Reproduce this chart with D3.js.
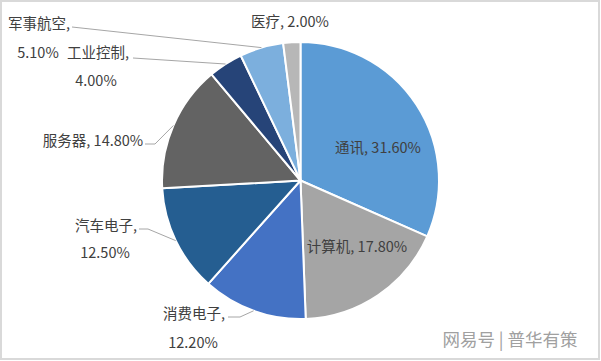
<!DOCTYPE html>
<html>
<head>
<meta charset="utf-8">
<script src="https://cdn.jsdelivr.net/npm/d3@7"></script>
<style>
  body { margin: 0; background: #fff; }
  text { font-family: "Noto Sans CJK SC", "Noto Sans", sans-serif; fill: #404040; }
</style>
</head>
<body>
<div id="chart"></div>
<script>
// data, clockwise from 12 o'clock
var names = ["通讯", "计算机", "消费电子", "汽车电子", "服务器", "工业控制", "军事航空", "医疗"];
var shares = [31.6, 17.8, 12.2, 12.5, 14.8, 4.0, 5.1, 2.0];

var colors = ["#5b9bd5", "#a5a5a5", "#4472c4", "#255e91", "#636363", "#264478", "#7cafdd", "#b7b7b7"];

// label placement (Excel-style hand placed labels), text lines + leader elbow
var labelPos = {
  "通讯":   { lines: [[378, 148, "通讯, 31.60%"]] },
  "计算机": { lines: [[357, 247, "计算机, 17.80%"]] },
  "消费电子": { lines: [[194, 314, "消费电子,"], [193, 343, "12.20%"]], lead: [228, 317, 240] },
  "汽车电子": { lines: [[106, 226, "汽车电子,"], [105, 253, "12.50%"]], lead: [139, 229, 148] },
  "服务器": { lines: [[93, 141, "服务器, 14.80%"]], lead: [145, 144, 155] },
  "工业控制": { lines: [[98, 53, "工业控制,"], [96, 81, "4.00%"]], lead: [133, 58] },
  "军事航空": { lines: [[39, 24, "军事航空,"], [38, 53, "5.10%"]], lead: [72, 27] },
  "医疗":   { lines: [[290, 22, "医疗, 2.00%"]] }
};

var width = 601, height = 361;
var cx = 300.5, cy = 180.5, r = 138.5;

var svg = d3.select("#chart").append("svg")
    .attr("width", width)
    .attr("height", height);

svg.append("rect")
    .attr("x", 1).attr("y", 1)
    .attr("width", width - 3).attr("height", height - 3)
    .style("fill", "#fff")
    .style("stroke", "#d9d9d9")
    .style("stroke-width", 2);

var pie = d3.pie().sort(null).value(function(d) { return d; });
var arcs = pie(shares);
var arc = d3.arc().innerRadius(0).outerRadius(r);

var g = svg.append("g").attr("transform", "translate(" + cx + "," + cy + ")");

g.selectAll("path")
    .data(arcs)
    .enter().append("path")
    .attr("d", arc)
    .style("fill", function(d, i) { return colors[i]; })
    .style("stroke", "#fff")
    .style("stroke-width", 2)
    .style("stroke-linejoin", "round");

// leader lines, from slice edge midpoint to label
arcs.forEach(function(d, i) {
  var lp = labelPos[names[i]];
  if (!lp.lead) return;
  var a = (d.startAngle + d.endAngle) / 2;
  var ex = cx + r * Math.sin(a), ey = cy - r * Math.cos(a);
  var pts = [[lp.lead[0], lp.lead[1]]];
  if (lp.lead.length > 2) pts.push([lp.lead[2], lp.lead[1]]);
  pts.push([ex, ey]);
  svg.append("path")
      .attr("d", d3.line()(pts))
      .style("fill", "none")
      .style("stroke", "#a6a6a6")
      .style("stroke-width", 1);
});

names.forEach(function(n) {
  labelPos[n].lines.forEach(function(l) {
    svg.append("text")
        .attr("x", l[0])
        .attr("y", l[1])
        .attr("dy", "0.35em")
        .attr("text-anchor", "middle")
        .style("font-size", "14.5px")
        .text(l[2]);
  });
});

// watermark
svg.append("text")
    .attr("x", 510).attr("y", 340)
    .attr("dy", "0.35em")
    .attr("text-anchor", "middle")
    .style("font-size", "17.5px")
    .style("fill", "#a0a0a0")
    .text("网易号 | 普华有策");
</script>
</body>
</html>
